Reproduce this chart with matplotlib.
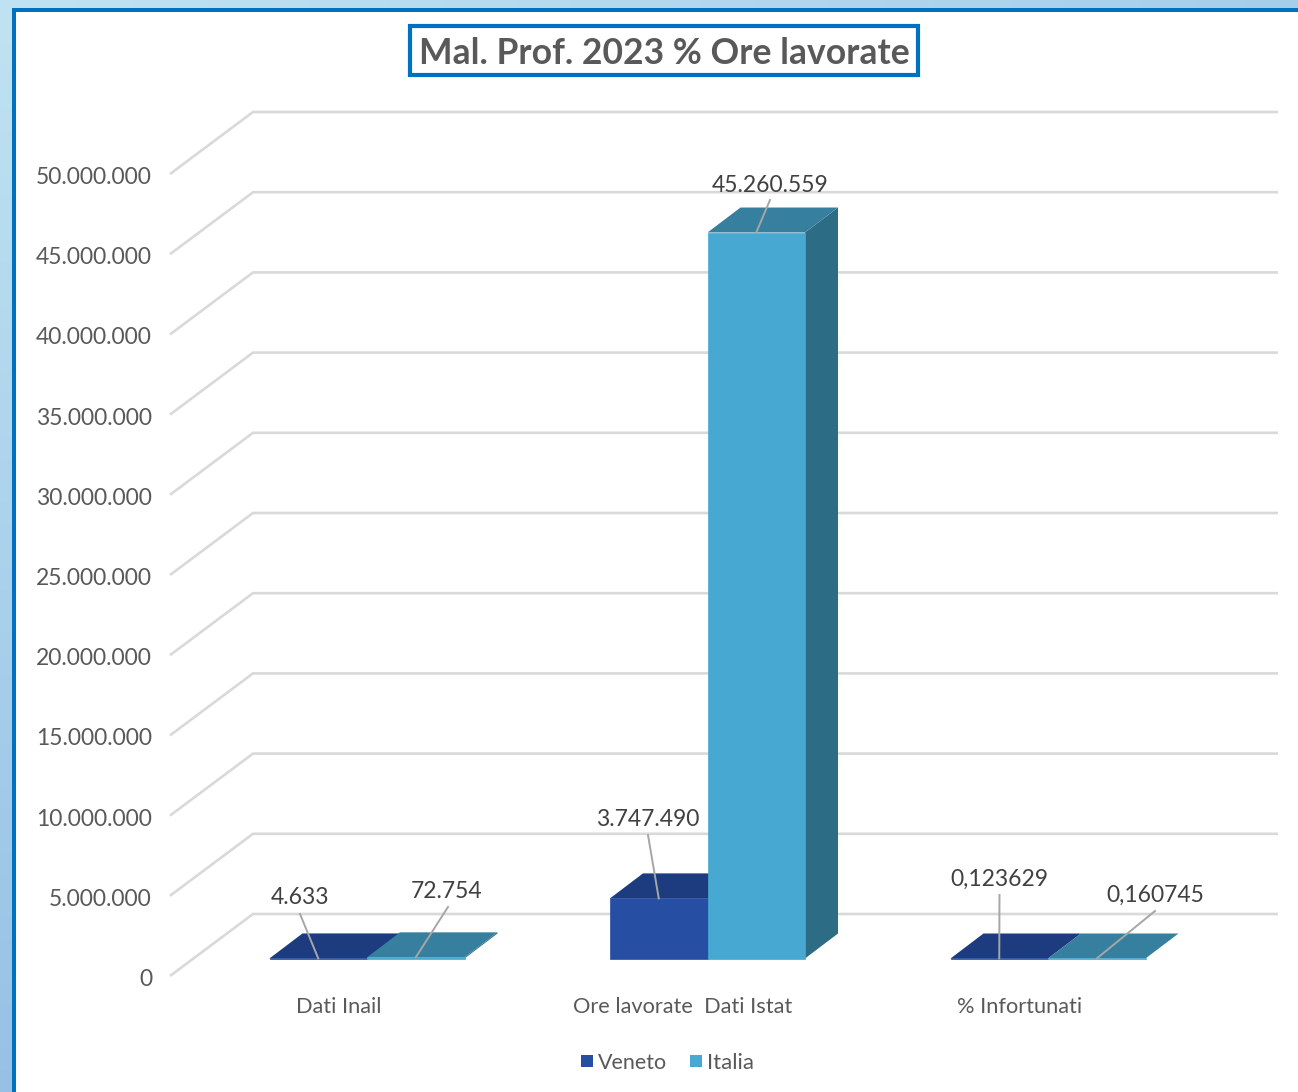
import numpy as np
import matplotlib
matplotlib.use('Agg')
import matplotlib.pyplot as plt
from matplotlib.patches import Polygon, Rectangle

plt.rcParams['font.family'] = ['Lato', 'DejaVu Sans']

categories = ['Dati Inail', 'Ore lavorate  Dati Istat', '% Infortunati']
veneto = [4633, 3747490, 0.123629]
italia = [72754, 45260559, 0.160745]
veneto_labels = ['4.633', '3.747.490', '0,123629']
italia_labels = ['72.754', '45.260.559', '0,160745']
ticks = [0, 5000000, 10000000, 15000000, 20000000, 25000000,
         30000000, 35000000, 40000000, 45000000, 50000000]
tick_labels = ['0', '5.000.000', '10.000.000', '15.000.000', '20.000.000', '25.000.000',
               '30.000.000', '35.000.000', '40.000.000', '45.000.000', '50.000.000']

W, H = 1298, 1092
px_per_val = 80.2 / 5000000
px_per_cat = 340.5
x0 = 367.0   # pixel of the first group centre
y0 = 958.5   # pixel of value 0 on the bar plane

fig = plt.figure(figsize=(W / 100, H / 100), dpi=100)

# background gradient
bg = fig.add_axes([0, 0, 1, 1])
yy, xx = np.mgrid[0:1:50j, 0:1:50j]
c_tl = np.array([0.75, 0.89, 0.95])
c_bl = np.array([0.59, 0.76, 0.90])
c_tr = np.array([0.65, 0.81, 0.92])
grad = c_tl + (c_bl - c_tl) * yy[..., None] + (c_tr - c_tl) * xx[..., None]
bg.imshow(grad, extent=[0, W, H, 0], aspect='auto')
bg.set_xlim(0, W)
bg.set_ylim(H, 0)
bg.axis('off')
bg.add_patch(Rectangle((12, 8), W, H, fc='white', ec='none'))
bg.add_patch(Rectangle((12, 8), 4, H, fc='#0070c0', ec='none'))
bg.add_patch(Rectangle((12, 8), W, 4, fc='#0070c0', ec='none'))

# chart in data units
ax = fig.add_axes([0, 0, 1, 1])
ax.patch.set_alpha(0)
ax.set_xlim(-x0 / px_per_cat, (W - x0) / px_per_cat)
ax.set_ylim(-(H - y0) / px_per_val, y0 / px_per_val)
ax.axis('off')

dx = 33 / px_per_cat
dy = 25 / px_per_val
wall_dx = 83 / px_per_cat
wall_dy = 62 / px_per_val
floor = -17.5 / px_per_val   # front edge of the floor, below the bar plane
left = (170 - x0) / px_per_cat
right = (1278 - x0) / px_per_cat
grid_c = '#d9d9d9'

for i, t in enumerate(ticks):
    yf = t + floor
    ax.plot([left, left + wall_dx, right], [yf, yf + wall_dy, yf + wall_dy],
            color=grid_c, lw=1.9, solid_joinstyle='miter', solid_capstyle='butt', zorder=1)
    bg.text(152, 979.5 - 80.2 * i, tick_labels[i], ha='right', va='center',
            fontsize=16.5, color='#595959')

width = 97.5 / px_per_cat


def bar3d(xl, v, front, top, side):
    xr = xl + width
    ax.add_patch(Polygon([(xr, 0), (xr + dx, dy), (xr + dx, v + dy), (xr, v)],
                         fc=side, ec='none', zorder=3))
    ax.add_patch(Polygon([(xl, v), (xr, v), (xr + dx, v + dy), (xl + dx, v + dy)],
                         fc=top, ec='none', zorder=3))
    ax.add_patch(Rectangle((xl, 0), width, v, fc=front, ec=front, lw=0.5, zorder=3))


cat_x = [339, 683, 1020]
for i in range(len(categories)):
    bar3d(i - width, veneto[i], '#264fa3', '#1d3c7f', '#1b3a78')
    bar3d(i, italia[i], '#47a9d2', '#377f9e', '#2d6c85')
    bg.text(cat_x[i], 1007, categories[i], ha='center', va='center',
            fontsize=15.7, color='#595959')

# data labels with leader lines, label ends given in pixels
veneto_ends = [(300, 914, 300, 898), (648, 835, 648, 819), (999.5, 895, 999, 879)]
italia_ends = [(448, 907, 447, 892), (770, 200, 770, 185), (1155, 911, 1155, 895)]


def leader(xl, v, end, label):
    xm = xl + width / 2
    ax.plot([xm, (end[0] - x0) / px_per_cat], [v, (y0 - end[1]) / px_per_val],
            color='#a6a6a6', lw=1.4, zorder=5)
    ax.text((end[2] - x0) / px_per_cat, (y0 - end[3]) / px_per_val, label,
            ha='center', va='center', fontsize=16.5, color='#404040', zorder=6)


for i in range(len(categories)):
    leader(i - width, veneto[i], veneto_ends[i], veneto_labels[i])
    leader(i, italia[i], italia_ends[i], italia_labels[i])

# title box
ax2 = fig.add_axes([0, 0, 1, 1])
ax2.patch.set_alpha(0)
ax2.set_xlim(0, W)
ax2.set_ylim(H, 0)
ax2.axis('off')
ax2.add_patch(Rectangle((410, 26), 508, 49, fc='white', ec='#0070c0', lw=3))
ax2.text(664, 53, 'Mal. Prof. 2023 % Ore lavorate', ha='center', va='center',
         fontsize=25.6, fontweight='bold', color='#595959')

# legend
ax2.add_patch(Rectangle((581, 1055), 12, 12, fc='#264fa3', ec='none'))
ax2.text(598, 1063, 'Veneto', ha='left', va='center', fontsize=15.5, color='#595959')
ax2.add_patch(Rectangle((690, 1055), 12, 12, fc='#47a9d2', ec='none'))
ax2.text(707, 1063, 'Italia', ha='left', va='center', fontsize=16, color='#595959')

fig.savefig('out.png', dpi=100)
